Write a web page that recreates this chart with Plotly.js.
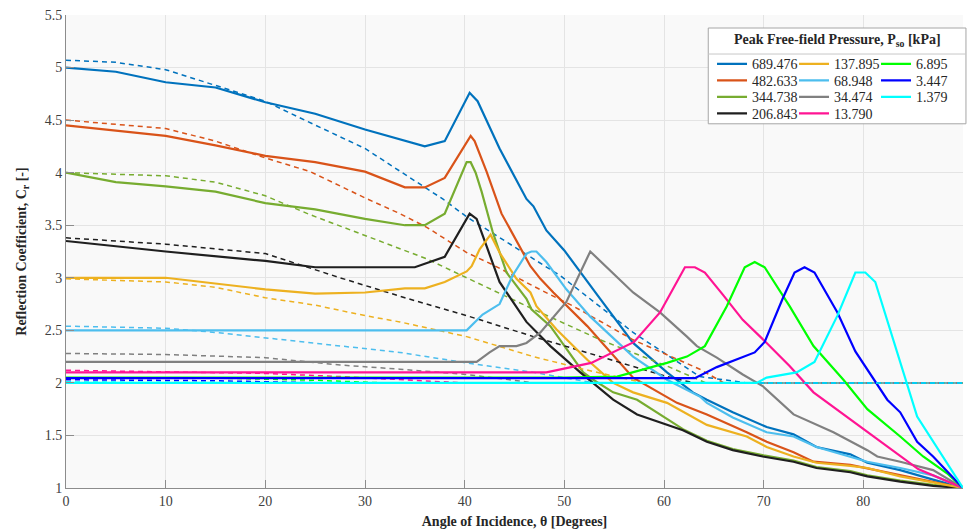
<!DOCTYPE html>
<html>
<head>
<meta charset="utf-8">
<script src="https://cdn.plot.ly/plotly-3.0.1.min.js"></script>
<style>html,body{margin:0;padding:0;background:#fff;}#chart{width:968px;height:532px;}</style>
</head>
<body>
<div id="chart"></div>
<script>
// ---- Data ----
const pressureLabels = ['689.476','482.633','344.738','206.843','137.895','68.948','34.474','13.790','6.895','3.447','1.379'];

// Solid curves: angle of incidence (deg) and reflection coefficient
const ang689 = [0,5,10,15,20,25,30,36,38,40.5,41.3,43.5,46.2,46.9,48.2,50,53.6,56.9,60.3,62.9,64.3,66.9,70.3,73,75.3,78.7,80.4,83.7,87,90];
const cr689  = [5.0,4.96,4.86,4.81,4.67,4.56,4.41,4.25,4.3,4.76,4.68,4.23,3.75,3.68,3.45,3.26,2.8,2.38,2.1,1.91,1.84,1.72,1.58,1.51,1.39,1.32,1.24,1.17,1.08,1.0];
const ang482 = [0,5,10,15,20,25,30,34,36,38,40.6,41,42.2,43.7,46.6,47.6,48.9,52.3,56.9,61.3,64.3,68.3,70.3,73,75,78.7,83.7,90];
const cr482  = [4.45,4.40,4.35,4.26,4.16,4.1,4.01,3.86,3.86,3.95,4.35,4.3,4.01,3.61,3.11,2.99,2.86,2.54,2.05,1.81,1.70,1.53,1.44,1.34,1.25,1.22,1.12,1.0];
const ang344 = [0,5,10,15,20,25,30,34,36,38,40.2,40.6,41.1,41.7,42.8,44.2,46.2,46.7,48.6,51.9,52.9,54.9,57.3,61.9,64.3,66.9,70,73,75.3,78.7,80.4,83.7,87,90];
const cr344  = [4.0,3.91,3.87,3.82,3.71,3.65,3.56,3.5,3.5,3.61,4.1,4.1,4.0,3.82,3.44,3.05,2.8,2.7,2.54,2.1,2.03,1.91,1.84,1.56,1.45,1.37,1.31,1.26,1.2,1.16,1.12,1.07,1.03,1.0];
const ang206 = [0,10,20,25,35,38,40.5,41.2,42.2,43.5,46.2,48.6,51.6,54.9,57.3,61.9,64.3,66.9,69.9,73,75.3,78.7,80.4,83.7,87,90];
const cr206  = [3.35,3.25,3.16,3.10,3.10,3.2,3.61,3.56,3.30,2.96,2.58,2.35,2.10,1.84,1.70,1.55,1.44,1.36,1.30,1.25,1.19,1.15,1.11,1.06,1.02,1.0];
const ang137 = [0,10,20,25,30,34,36,38,40.2,40.7,41.5,42.6,43.5,45.2,46.6,47.2,49.2,52.3,54.9,56.9,60.3,64.3,68.3,70.3,73,75.3,78.7,80.4,83.7,87,90];
const cr137  = [3.0,3.0,2.89,2.85,2.86,2.90,2.90,2.96,3.06,3.11,3.27,3.41,3.24,2.99,2.86,2.73,2.51,2.22,2.0,1.91,1.81,1.60,1.49,1.39,1.30,1.24,1.21,1.19,1.11,1.05,1.0];
const ang68  = [0,40.2,41.8,43.5,44.8,46.2,46.7,47.2,48.2,50.2,52.6,56.9,60.3,63.6,64.3,66.9,70.3,73,75.3,78.7,80.4,83.7,87,90];
const cr68   = [2.5,2.5,2.65,2.75,3.02,3.23,3.25,3.25,3.15,2.89,2.63,2.25,2.03,1.87,1.81,1.67,1.53,1.49,1.39,1.30,1.25,1.19,1.12,1.0];
const ang34  = [0,41.2,42.5,43.5,45.2,46.2,47.6,50.2,51.6,52.6,56.9,59.6,62.3,63.3,65.3,67.9,69.9,73,77,80.4,81.4,83.7,87,90];
const cr34   = [2.2,2.2,2.29,2.35,2.35,2.38,2.48,2.77,3.05,3.25,2.86,2.67,2.44,2.35,2.24,2.08,1.97,1.70,1.53,1.36,1.30,1.25,1.17,1.0];
const ang13  = [0,48.2,52.7,57,59.6,62.1,63.1,64.1,65.9,67.9,70.3,72.6,75,77,80.4,81.4,85.5,90];
const cr13   = [2.1,2.1,2.19,2.39,2.67,3.10,3.10,3.05,2.84,2.60,2.38,2.16,1.91,1.77,1.53,1.46,1.18,1.0];
const ang6   = [0,50,55.3,56.9,60.3,62.3,63.6,64.1,66.3,68.1,69.1,70.1,72.6,75,78,79.4,80.4,83.7,86,88.4,90];
const cr6    = [2.05,2.05,2.06,2.10,2.19,2.25,2.32,2.35,2.73,3.10,3.15,3.10,2.73,2.35,2.03,1.87,1.75,1.49,1.30,1.14,1.0];
const ang3   = [0,63.1,65.3,67.3,69.1,70.1,71.9,73.1,74.1,75.1,77.4,79.2,82.4,83.7,85.4,87,90];
const cr3    = [2.045,2.045,2.15,2.22,2.29,2.39,2.80,3.05,3.10,3.05,2.67,2.30,1.84,1.72,1.44,1.30,1.0];
const ang1   = [0,69.3,70.3,73.3,75.1,77.4,79.2,80.2,81.2,83,84.7,85.4,90];
const cr1    = [2.0,2.0,2.05,2.10,2.20,2.64,3.05,3.05,2.96,2.41,1.87,1.68,1.0];

// Dashed curves (approximations)
const dAng689 = [0,5,10,20,23.5,30,37.8,40.2,46.9,49.6,56.9,63.6,68.3,90];
const dCr689  = [5.07,5.05,4.98,4.68,4.52,4.23,3.75,3.58,3.18,3.02,2.48,2.06,2.0,2.0];
const dAng482 = [0,10,15,20,24.5,30,33.5,36.2,40.2,42.9,46.9,50.9,56.9,63.6,66,90];
const dCr482  = [4.50,4.42,4.30,4.14,4.01,3.76,3.61,3.48,3.24,3.12,2.92,2.73,2.41,2.13,2.0,2.0];
const dAng344 = [0,10,15,20,24.5,30,36.2,40.2,46.9,53.6,60.3,64.2,90];
const dCr344  = [4.0,3.97,3.91,3.78,3.60,3.40,3.18,3.0,2.70,2.41,2.16,2.0,2.0];
const dAng206 = [0,10,20,23.5,27.5,34,40.2,46.9,53.6,60.3,63,90];
const dCr206  = [3.38,3.32,3.23,3.12,3.0,2.81,2.64,2.44,2.25,2.06,2.0,2.0];
const dAng137 = [0,10,15,20,25,30,33.5,40.2,46.9,51.9,58,90];
const dCr137  = [2.99,2.96,2.91,2.81,2.74,2.64,2.58,2.44,2.25,2.13,2.0,2.0];
const dAng68  = [0,10,15,20,25,30,33.5,40.2,46.9,53,90];
const dCr68   = [2.54,2.52,2.48,2.43,2.38,2.33,2.29,2.19,2.10,2.0,2.0];
const dAng34  = [0,10,20,27.5,33.5,40.2,47,90];
const dCr34   = [2.28,2.27,2.24,2.17,2.13,2.08,2.0,2.0];
const dAng13  = [0,20,27.5,34,40,90];
const dCr13   = [2.12,2.09,2.06,2.03,2.0,2.0];
const dAng6   = [0,15,25,32,90];
const dCr6    = [2.05,2.045,2.025,2.0,2.0];
const dAng3   = [0,15,26,90];
const dCr3    = [2.03,2.02,2.0,2.0];
const dAng1   = [0,20,90];
const dCr1    = [2.01,2.0,2.0];

// ---- Styling ----
const colors = ['#0072BD','#D95319','#77AC30','#1f1f1f','#EDB120','#4DBEEE','#808080','#FF1493','#00FF00','#0000FF','#00FFFF'];
// legend rows (each row is its own horizontal legend so the entries fill column by column)
const legendOf = ['legend','legend2','legend3','legend4','legend','legend2','legend3','legend4','legend','legend2','legend3'];

const solidX = [ang689,ang482,ang344,ang206,ang137,ang68,ang34,ang13,ang6,ang3,ang1];
const solidY = [cr689,cr482,cr344,cr206,cr137,cr68,cr34,cr13,cr6,cr3,cr1];
const dashX = [dAng689,dAng482,dAng344,dAng206,dAng137,dAng68,dAng34,dAng13,dAng6,dAng3,dAng1];
const dashY = [dCr689,dCr482,dCr344,dCr206,dCr137,dCr68,dCr34,dCr13,dCr6,dCr3,dCr1];

const traces = [];
for (let i = 0; i < pressureLabels.length; i++) {
  traces.push({
    x: solidX[i], y: solidY[i], type: 'scatter', mode: 'lines',
    name: pressureLabels[i], legend: legendOf[i],
    line: {color: colors[i], width: 2.2}, hoverinfo: 'skip'
  });
  traces.push({
    x: dashX[i], y: dashY[i], type: 'scatter', mode: 'lines',
    name: pressureLabels[i] + ' approx', showlegend: false,
    line: {color: colors[i], width: 1.5, dash: '5px,4px'}, hoverinfo: 'skip'
  });
}

const FONT = "'Liberation Serif', serif";
const legendBase = {
  orientation: 'h', xanchor: 'left', yanchor: 'top', x: 0.7202,
  entrywidth: 37, entrywidthmode: 'pixels',
  bgcolor: 'rgba(0,0,0,0)', borderwidth: 0,
  font: {family: FONT, size: 14, color: '#262626'}, itemwidth: 30
};

const layout = {
  width: 968, height: 532,
  margin: {l: 66, r: 5, t: 15, b: 44},
  paper_bgcolor: '#ffffff', plot_bgcolor: '#f9f9f9',
  font: {family: FONT, size: 14, color: '#404040'},
  showlegend: true,
  xaxis: {
    range: [0, 90], dtick: 10, tick0: 0,
    showgrid: true, gridcolor: '#e4e4e4', zeroline: false,
    showline: true, linecolor: '#8c8c8c', linewidth: 1,
    ticks: 'inside', ticklen: 8, tickcolor: '#8c8c8c',
    tickfont: {family: FONT, size: 14, color: '#404040'},
    title: {text: '<b>Angle of Incidence, θ [Degrees]</b>', font: {family: FONT, size: 14, color: '#262626'}, standoff: 8}
  },
  yaxis: {
    range: [1, 5.5], dtick: 0.5, tick0: 1,
    showgrid: true, gridcolor: '#e4e4e4', zeroline: false,
    showline: true, linecolor: '#8c8c8c', linewidth: 1,
    ticks: 'inside', ticklen: 8, tickcolor: '#8c8c8c',
    tickfont: {family: FONT, size: 14, color: '#404040'},
    title: {text: '<b>Reflection Coefficient, C<sub>r</sub> [-]</b>', font: {family: FONT, size: 14, color: '#262626'}, standoff: 14}
  },
  legend:  Object.assign({}, legendBase, {y: 0.9296}),
  legend2: Object.assign({}, legendBase, {y: 0.8947}),
  legend3: Object.assign({}, legendBase, {y: 0.8598}),
  legend4: Object.assign({}, legendBase, {y: 0.8249}),
  shapes: [
    {type: 'rect', xref: 'paper', yref: 'paper', x0: 0.716, x1: 1.0033, y0: 0.77, y1: 0.9725,
     fillcolor: '#ffffff', line: {color: '#a6a6a6', width: 1}, layer: 'above'},
    {type: 'line', xref: 'paper', yref: 'paper', x0: 0.716, x1: 1.0033, y0: 0.9175, y1: 0.9175,
     line: {color: '#c8c8c8', width: 1}, layer: 'above'}
  ],
  annotations: [
    {xref: 'paper', yref: 'paper', x: 0.8596, y: 0.947, xanchor: 'center', yanchor: 'middle', showarrow: false,
     text: '<b>Peak Free-field Pressure, P<sub>so</sub> [kPa]</b>', font: {family: FONT, size: 14, color: '#262626'}}
  ]
};

Plotly.newPlot('chart', traces, layout, {displayModeBar: false, staticPlot: true});
</script>
</body>
</html>
